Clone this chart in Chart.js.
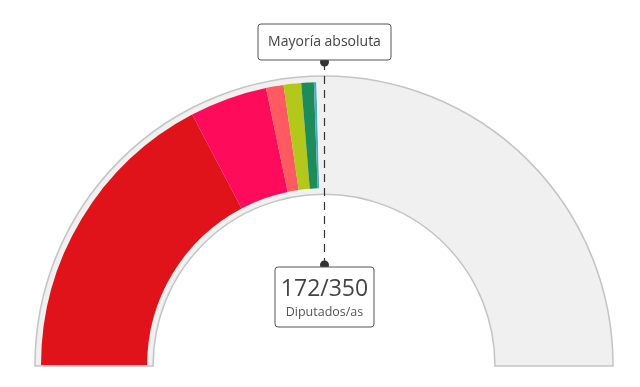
<!DOCTYPE html>
<html>
<head>
<meta charset="utf-8">
<script src="https://cdn.jsdelivr.net/npm/chart.js@4/dist/chart.umd.min.js"></script>
<style>
  html, body { margin: 0; padding: 0; background: #fff; }
  #wrap { width: 640px; height: 387px; }
</style>
</head>
<body>
<div id="wrap"><canvas id="seatsChart"></canvas></div>
<script>
const parties = ['PSOE', 'Sumar', 'ERC', 'Junts', 'PNV', 'BNG', 'Resto'];
const seats = [121, 31, 7, 7, 5, 1, 178];
const partyColors = ['#E0121A', '#FF0B5B', '#FF5A5F', '#B3C81A', '#1E8B5A', '#4FA9C6', '#F0F0F0'];
const totalSeats = 350;
const reachedSeats = 172;
const topLabel = 'Mayoría absoluta';
const bottomLabel = 'Diputados/as';

const gaugeFrame = {
    id: 'gaugeFrame',
    beforeDatasetsDraw(chart) {
        const arc = chart.getDatasetMeta(0).data[0];
        const { x, y, outerRadius, innerRadius } = arc.getProps(['x', 'y', 'outerRadius', 'innerRadius'], true);
        const ro = outerRadius + 6;
        const ri = innerRadius - 6;
        const ctx = chart.ctx;
        ctx.save();
        ctx.beginPath();
        ctx.moveTo(x - ro, y + 1);
        ctx.lineTo(x - ro, y);
        ctx.arc(x, y, ro, Math.PI, 2 * Math.PI);
        ctx.lineTo(x + ro, y + 1);
        ctx.lineTo(x + ri, y + 1);
        ctx.lineTo(x + ri, y);
        ctx.arc(x, y, ri, 2 * Math.PI, Math.PI, true);
        ctx.lineTo(x - ri, y + 1);
        ctx.closePath();
        ctx.fillStyle = '#F0F0F0';
        ctx.fill();
        ctx.strokeStyle = '#C4C4C4';
        ctx.lineWidth = 1.5;
        ctx.stroke();
        ctx.restore();
    }
};

function roundBox(ctx, x, y, w, h, r) {
    ctx.beginPath();
    ctx.moveTo(x + r, y);
    ctx.arcTo(x + w, y, x + w, y + h, r);
    ctx.arcTo(x + w, y + h, x, y + h, r);
    ctx.arcTo(x, y + h, x, y, r);
    ctx.arcTo(x, y, x + w, y, r);
    ctx.closePath();
    ctx.fillStyle = '#fff';
    ctx.fill();
    ctx.strokeStyle = '#555';
    ctx.lineWidth = 1;
    ctx.stroke();
}

const majorityMarker = {
    id: 'majorityMarker',
    afterDraw(chart) {
        const arc = chart.getDatasetMeta(0).data[0];
        const { x, y, outerRadius } = arc.getProps(['x', 'y', 'outerRadius'], true);
        const angle = Math.PI + Math.PI * (totalSeats / 2) / totalSeats;
        const lx = Math.round(x + Math.cos(angle) * outerRadius) + 0.5;
        const topY = y - outerRadius - 20;
        const botY = y - 100;
        const ctx = chart.ctx;
        ctx.save();
        ctx.setLineDash([8, 6]);
        ctx.strokeStyle = '#333';
        ctx.lineWidth = 1.2;
        ctx.beginPath();
        ctx.moveTo(lx, topY);
        ctx.lineTo(lx, botY);
        ctx.stroke();
        ctx.setLineDash([]);

        ctx.fillStyle = '#333';
        [topY, botY].forEach(py => {
            ctx.beginPath();
            ctx.arc(lx, py, 4.5, 0, 2 * Math.PI);
            ctx.fill();
        });

        // top label
        roundBox(ctx, lx - 66.5, topY - 38, 133, 36, 3);
        ctx.fillStyle = '#444';
        ctx.font = '14px "Open Sans"';
        ctx.textAlign = 'center';
        ctx.textBaseline = 'middle';
        ctx.fillText(topLabel, lx, topY - 20);

        // bottom label
        roundBox(ctx, lx - 49.5, botY + 2, 99, 60, 3);
        ctx.fillStyle = '#444';
        ctx.font = '23px "Open Sans"';
        ctx.fillText(reachedSeats + '/' + totalSeats, lx, botY + 24);
        ctx.fillStyle = '#555';
        ctx.font = '12.5px "Open Sans"';
        ctx.fillText(bottomLabel, lx, botY + 47);
        ctx.restore();
    }
};

const ctx = document.getElementById('seatsChart').getContext('2d');
new Chart(ctx, {
    type: 'doughnut',
    data: {
        labels: parties,
        datasets: [{
            data: seats,
            backgroundColor: partyColors,
            borderWidth: 0
        }]
    },
    options: {
        responsive: true,
        maintainAspectRatio: false,
        animation: false,
        rotation: -90,
        circumference: 180,
        cutout: '62.5%',
        layout: {
            padding: { left: 41, right: 33, top: 82, bottom: 22 }
        },
        plugins: {
            legend: { display: false },
            tooltip: { enabled: false }
        }
    },
    plugins: [gaugeFrame, majorityMarker]
});
</script>
</body>
</html>
